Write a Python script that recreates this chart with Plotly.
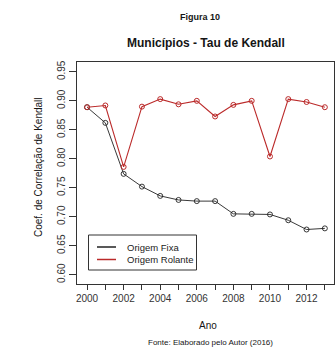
import plotly.graph_objects as go

# Kendall tau by year for municipalities
anos = [2000, 2001, 2002, 2003, 2004, 2005, 2006, 2007, 2008, 2009, 2010, 2011, 2012, 2013]
origem_fixa = [0.889, 0.862, 0.774, 0.752, 0.736, 0.729, 0.727, 0.727, 0.705, 0.705, 0.704, 0.694, 0.678, 0.680]
origem_rolante = [0.889, 0.892, 0.786, 0.890, 0.903, 0.894, 0.900, 0.873, 0.893, 0.900, 0.804, 0.903, 0.898, 0.889]

series_names = ["Origem Fixa", "Origem Rolante"]
y_ticks = [0.60, 0.65, 0.70, 0.75, 0.80, 0.85, 0.90, 0.95]
x_ticks = [2000, 2002, 2004, 2006, 2008, 2010, 2012]

COR_FIXA = "#222222"
COR_ROLANTE = "#bb2a2a"
FONTE = "Liberation Sans, Arial, sans-serif"

# plot area in pixels
plot_left, plot_right, plot_top, plot_bottom = 77, 334, 62, 284
pw, ph = plot_right - plot_left, plot_bottom - plot_top


def px_to_paper(xp, yp):
    return (xp - plot_left) / pw, (plot_bottom - yp) / ph


fig = go.Figure()

fig.add_trace(go.Scatter(
    x=anos, y=origem_fixa, mode="lines+markers", name=series_names[0], showlegend=False,
    line=dict(color=COR_FIXA, width=0.9),
    marker=dict(symbol="circle-open", size=5, color=COR_FIXA, line=dict(width=0.9)),
))
fig.add_trace(go.Scatter(
    x=anos, y=origem_rolante, mode="lines+markers", name=series_names[1], showlegend=False,
    line=dict(color=COR_ROLANTE, width=1.1),
    marker=dict(symbol="circle-open", size=5, color=COR_ROLANTE, line=dict(width=1)),
))

shapes = []
annotations = []

# compact legend box with line keys
bx0, by0 = px_to_paper(88.5, 270)
bx1, by1 = px_to_paper(196.5, 235)
shapes.append(dict(type="rect", xref="paper", yref="paper", x0=bx0, y0=by0, x1=bx1, y1=by1,
                   line=dict(color="#333333", width=1), fillcolor="white", layer="above"))
for name, color, yp in zip(series_names, [COR_FIXA, COR_ROLANTE], [247, 259.5]):
    lx0, ly = px_to_paper(97, yp)
    lx1, _ = px_to_paper(116, yp)
    shapes.append(dict(type="line", xref="paper", yref="paper", x0=lx0, y0=ly, x1=lx1, y1=ly,
                       line=dict(color=color, width=1.5), layer="above"))
    tx, ty = px_to_paper(124.5, yp)
    annotations.append(dict(text=name, x=tx, y=ty, xref="paper", yref="paper",
                            xanchor="left", yanchor="middle", showarrow=False,
                            font=dict(size=9.5, color="#222222")))

# titles and labels
text_items = [
    ("<b>Figura 10</b>", 200, 17, 9, 0),
    ("<b>Municípios - Tau de Kendall</b>", 206, 43, 12, 0),
    ("Ano", 208, 325, 10, 0),
    ("Fonte: Elaborado pelo Autor (2016)", 210, 342, 8, 0),
    ("Coef. de Correlação de Kendall", 38, 167, 10, -90),
]
for text, xp, yp, size, angle in text_items:
    x, y = px_to_paper(xp, yp)
    annotations.append(dict(text=text, x=x, y=y, xref="paper", yref="paper",
                            xanchor="center", yanchor="middle", showarrow=False,
                            textangle=angle, font=dict(size=size, color="#151515")))

fig.update_layout(
    width=336, height=356,
    margin=dict(l=plot_left, r=336 - plot_right, t=plot_top, b=356 - plot_bottom),
    plot_bgcolor="white", paper_bgcolor="white",
    font=dict(family=FONTE, size=10, color="#333333"),
    showlegend=False,
    xaxis=dict(
        range=[1999.45, 2013.5], tickmode="array", tickvals=x_ticks,
        ticks="outside", ticklen=5, tickcolor="#333333",
        minor=dict(dtick=1, tick0=2000, ticks="outside", ticklen=5, tickcolor="#333333"),
        showgrid=False, zeroline=False,
        showline=True, mirror=True, linecolor="#333333", linewidth=1,
        tickfont=dict(size=10),
    ),
    yaxis=dict(
        range=[0.584, 0.967], tickmode="array", tickvals=y_ticks,
        ticktext=[f"{v:.2f}" for v in y_ticks],
        ticks="outside", ticklen=7, tickcolor="#333333", tickangle=-90,
        showgrid=False, zeroline=False,
        showline=True, mirror=True, linecolor="#333333", linewidth=1,
        tickfont=dict(size=10),
    ),
    shapes=shapes,
    annotations=annotations,
)

fig.write_html("out.html")
